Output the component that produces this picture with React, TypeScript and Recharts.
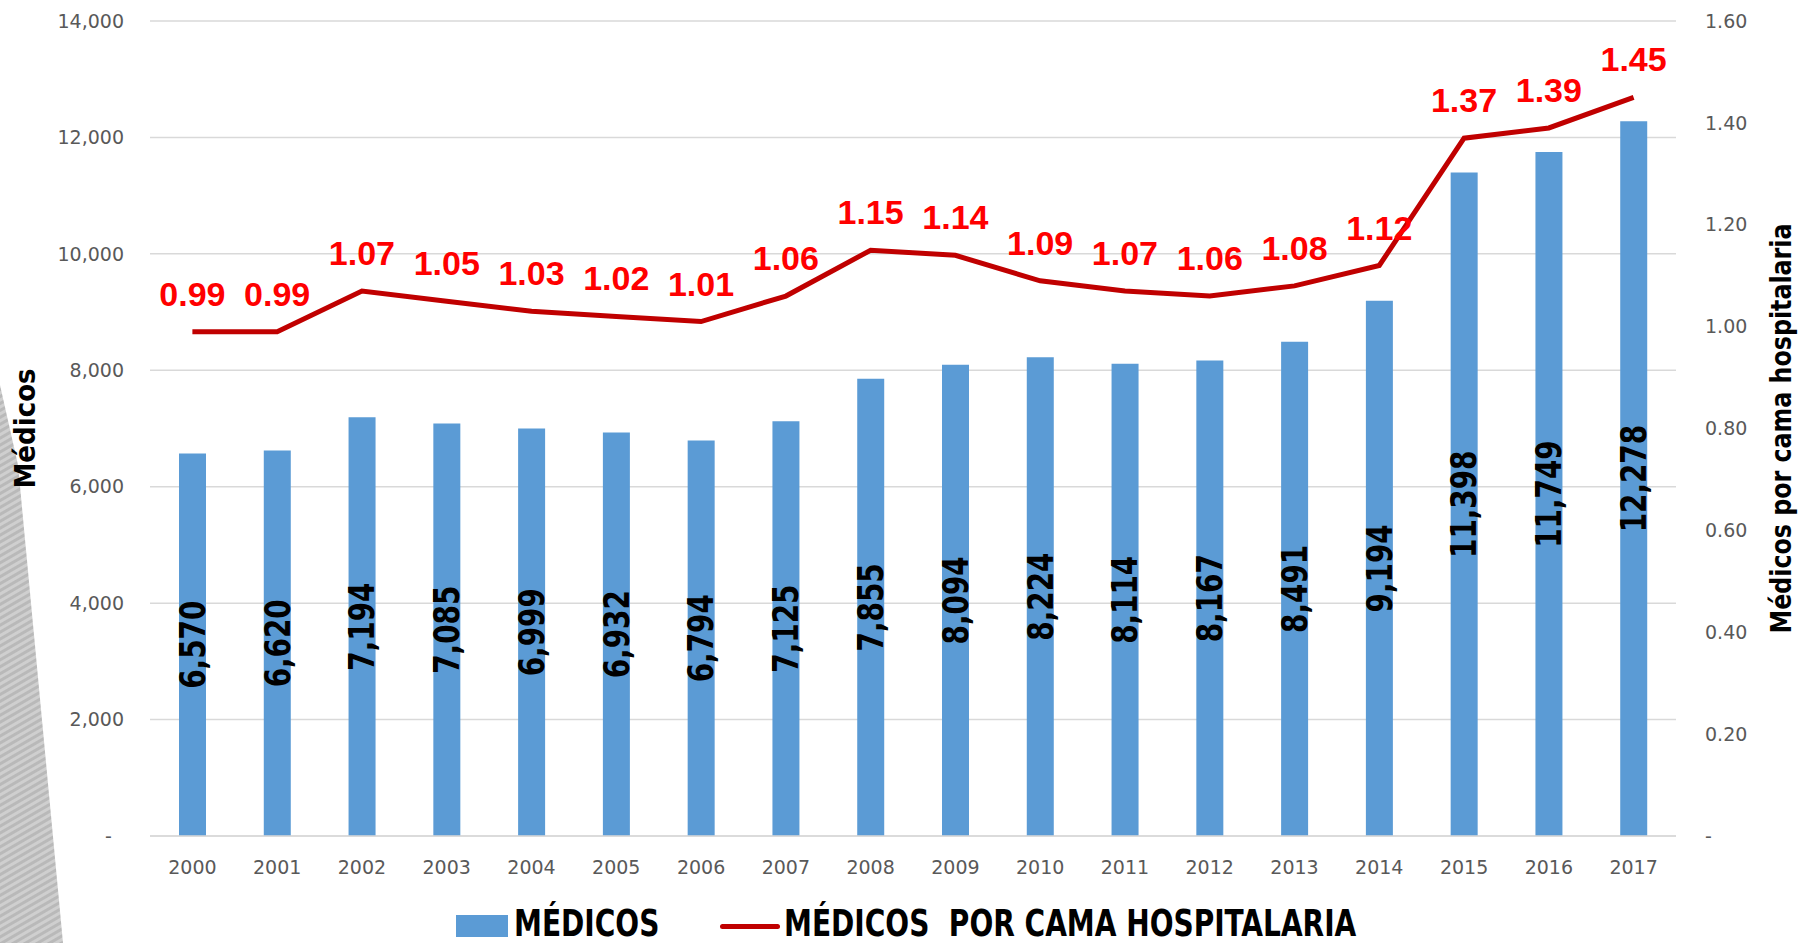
import {
  ComposedChart,
  Bar,
  Line,
  XAxis,
  YAxis,
  CartesianGrid,
  LabelList,
  Legend,
} from "recharts";

const years = [
  "2000", "2001", "2002", "2003", "2004", "2005", "2006", "2007", "2008",
  "2009", "2010", "2011", "2012", "2013", "2014", "2015", "2016", "2017",
];

const medicos = [
  6570, 6620, 7194, 7085, 6999, 6932, 6794, 7125, 7855, 8094, 8224, 8114,
  8167, 8491, 9194, 11398, 11749, 12278,
];

const porCama = [
  0.99, 0.99, 1.07, 1.05, 1.03, 1.02, 1.01, 1.06, 1.15, 1.14, 1.09, 1.07,
  1.06, 1.08, 1.12, 1.37, 1.39, 1.45,
];

const leftTicks = [0, 2000, 4000, 6000, 8000, 10000, 12000, 14000];
const rightTicks = [0, 0.2, 0.4, 0.6, 0.8, 1.0, 1.2, 1.4, 1.6];

const data = years.map((year, i) => ({
  year,
  medicos: medicos[i],
  porCama: porCama[i],
}));

const BAR_COLOR = "#5B9BD5";
const LINE_COLOR = "#C00000";
const TICK_COLOR = "#595959";
const NARROW = "'Liberation Sans Narrow', 'DejaVu Sans Condensed', Arial, sans-serif";

const tickStyle = { fill: TICK_COLOR, fontSize: 19, fontFamily: "'DejaVu Sans', Verdana, sans-serif" };

function AxisTitle(props: any) {
  const { viewBox, text, tx, sx } = props;
  const cy = viewBox.y + viewBox.height / 2;
  return (
    <text
      transform={`translate(${tx} ${cy}) rotate(-90) scale(${sx} 1)`}
      textAnchor="middle"
      dominantBaseline="central"
      fontFamily={NARROW}
      fontWeight="bold"
      fontSize={29}
      fill="#000"
    >
      {text}
    </text>
  );
}

// rotated value label in the middle of each bar, squeezed to look condensed
function BarValue(props: any) {
  const { x, y, width, height, value } = props;
  const cx = x + width / 2;
  const cy = y + height / 2;
  return (
    <text
      transform={`translate(${cx} ${cy}) rotate(-90) scale(0.86 1)`}
      textAnchor="middle"
      dominantBaseline="central"
      fontFamily={NARROW}
      fontWeight="bold"
      fontSize={36}
      fill="#000"
    >
      {Number(value).toLocaleString("en-US")}
    </text>
  );
}

const legendText = {
  position: "absolute" as const,
  top: 22,
  fontFamily: NARROW,
  fontWeight: "bold" as const,
  fontSize: 38,
  lineHeight: "40px",
  color: "#000",
  whiteSpace: "pre" as const,
  transform: "scaleX(0.82)",
  transformOrigin: "left center",
};

function ChartLegend() {
  return (
    <div style={{ position: "relative", width: 1798, height: 62 }}>
      <div style={{ position: "absolute", left: 456, top: 34, width: 52, height: 22, background: BAR_COLOR }} />
      <div style={{ ...legendText, left: 514 }}>MÉDICOS</div>
      <div style={{ position: "absolute", left: 720, top: 43, width: 60, height: 5, borderRadius: 3, background: LINE_COLOR }} />
      <div style={{ ...legendText, left: 784 }}>MÉDICOS  POR CAMA HOSPITALARIA</div>
    </div>
  );
}

export default function App() {
  return (
    <div style={{ position: "absolute", left: 0, top: 0, width: 1798, height: 943, background: "#fff" }}>
      <svg width={1798} height={943} style={{ position: "absolute", left: 0, top: 0 }}>
        <defs>
          <pattern id="stripes" width="6" height="6" patternUnits="userSpaceOnUse" patternTransform="rotate(60)">
            <rect width="6" height="6" fill="#cfcfcf" />
            <rect width="3" height="6" fill="#b9b9b9" />
          </pattern>
        </defs>
        <polygon points="0,385 18,465 63,943 0,943" fill="url(#stripes)" />
      </svg>
      <div style={{ position: "absolute", left: 0, top: 0 }}>
        <ComposedChart
          width={1798}
          height={943}
          data={data}
          margin={{ top: 21, right: 0, bottom: 0, left: 0 }}
          barSize={27}
        >
          <CartesianGrid vertical={false} stroke="#d9d9d9" strokeWidth={1.5} yAxisId="left" />
          <XAxis
            dataKey="year"
            height={45}
            tick={tickStyle}
            tickLine={false}
            axisLine={{ stroke: "#d9d9d9", strokeWidth: 1.5 }}
            tickMargin={19}
          />
          <YAxis
            yAxisId="left"
            width={150}
            domain={[0, 14000]}
            ticks={leftTicks}
            interval={0}
            tick={tickStyle}
            tickLine={false}
            axisLine={false}
            tickMargin={20}
            tickFormatter={(v: number) => (v === 0 ? "-\u00A0\u00A0" : v.toLocaleString("en-US"))}
            label={<AxisTitle tx={25} sx={1} text="Médicos" />}
          />
          <YAxis
            yAxisId="right"
            orientation="right"
            width={122}
            domain={[0, 1.6]}
            ticks={rightTicks}
            interval={0}
            tick={tickStyle}
            tickLine={false}
            axisLine={false}
            tickMargin={23}
            tickFormatter={(v: number) => (v === 0 ? "-" : v.toFixed(2))}
            label={<AxisTitle tx={1781} sx={0.91} text="Médicos por cama hospitalaria" />}
          />
          <Bar yAxisId="left" dataKey="medicos" fill={BAR_COLOR} isAnimationActive={false}>
            <LabelList dataKey="medicos" content={<BarValue />} />
          </Bar>
          <Line
            yAxisId="right"
            dataKey="porCama"
            stroke={LINE_COLOR}
            strokeWidth={5}
            dot={false}
            activeDot={false}
            isAnimationActive={false}
          >
            <LabelList
              dataKey="porCama"
              position="top"
              offset={26}
              formatter={(v: any) => Number(v).toFixed(2)}
              style={{ fill: "#FF0000", fontWeight: "bold", fontSize: 34, fontFamily: "'Liberation Sans', Arial, sans-serif" }}
            />
          </Line>
          <Legend
            verticalAlign="bottom"
            content={() => <ChartLegend />}
            wrapperStyle={{ left: 0, width: 1798, height: 62, bottom: 0 }}
          />
        </ComposedChart>
      </div>
    </div>
  );
}
